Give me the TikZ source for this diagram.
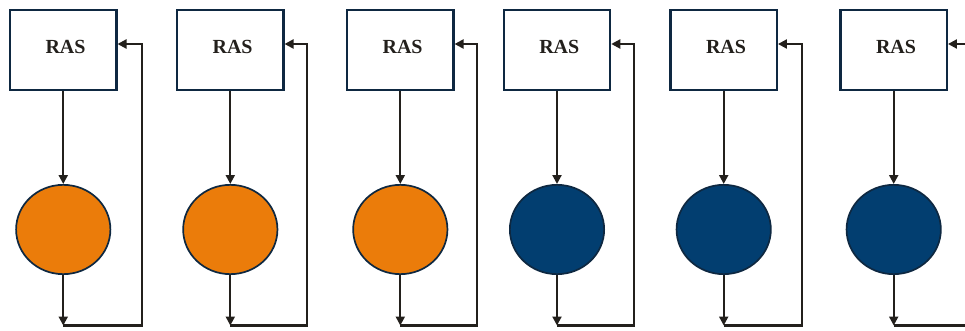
\documentclass[tikz,border=0pt]{standalone}
\usepackage{fontspec}
\setmainfont{Liberation Serif}
\usetikzlibrary{shapes.geometric,arrows.meta}
\definecolor{rasorange}{RGB}{235,124,10}
\definecolor{rasblue}{RGB}{2,62,112}
\definecolor{navyline}{RGB}{14,40,65}
\definecolor{connclr}{RGB}{35,32,28}
\begin{document}
\begin{tikzpicture}[x=1pt,y=-1pt,
  rasbox/.style={draw=navyline,line width=2.1pt,minimum width=106.4pt,minimum height=79.9pt,inner sep=0pt,fill=white},
  raslabel/.style={font=\fontsize{20}{22}\selectfont\bfseries,text=connclr,inner sep=0pt},
  cell/.style={ellipse,draw=navyline,line width=1.7pt,minimum width=94.3pt,minimum height=89.3pt,inner sep=0pt},
  arrowline/.style={draw=connclr,line width=2.1pt,-{Triangle[length=9pt,width=9pt]}},
]
\useasboundingbox (0,0) rectangle (965,331);
\clip (0,0) rectangle (965,331);
\foreach \i/\cx/\fx/\col in {1/63.25/142/rasorange, 2/230.3/306.7/rasorange, 3/400.3/476.7/rasorange, 4/557/634/rasblue, 5/723.7/801.7/rasblue, 6/893.7/995/rasblue}{
  \node[rasbox] (box\i) at (\cx,50) {};
  \node[raslabel] (lab\i) at ([xshift=2.3pt,yshift=3.3pt]box\i.center) {RAS};
  \node[cell,fill=\col] (cell\i) at (\cx,229.5) {};
  \coordinate (bot\i) at (\cx,325.5);
  \coordinate (fb\i) at (\fx,44);
  \draw[arrowline] (box\i) -- (cell\i);
  \draw[arrowline] (cell\i) -- (bot\i);
  \draw[arrowline] (bot\i) -| (fb\i) -- (box\i.east |- fb\i);
}
\end{tikzpicture}
\end{document}
